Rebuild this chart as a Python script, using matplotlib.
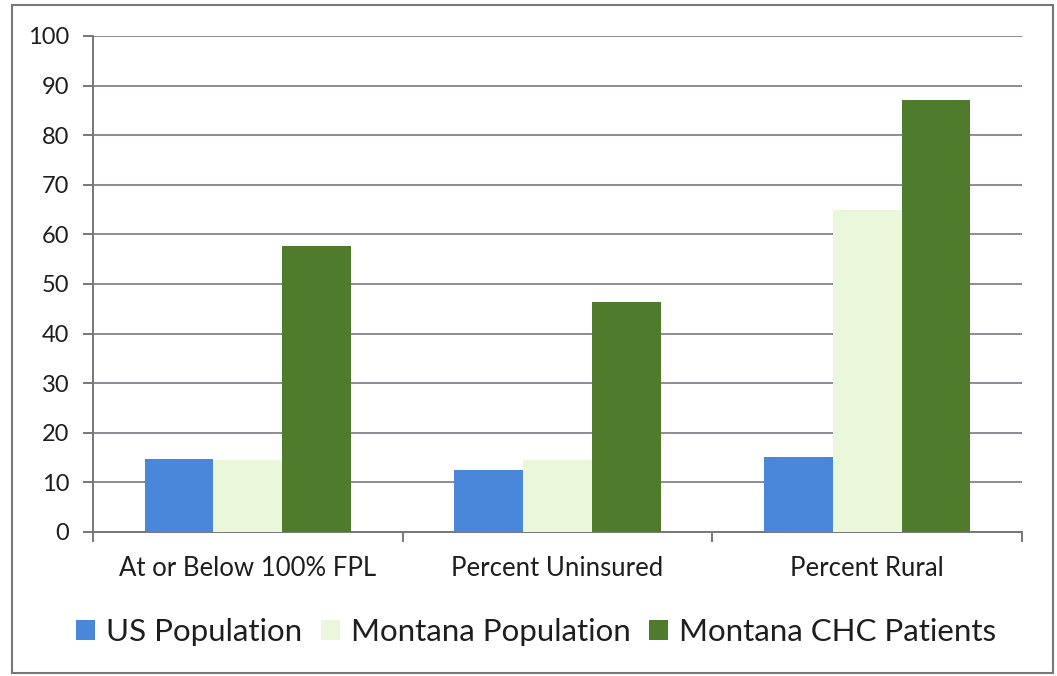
import matplotlib
matplotlib.use("Agg")
import matplotlib.pyplot as plt
import numpy as np
from matplotlib.patches import Rectangle

categories = ["At or Below 100% FPL", "Percent Uninsured", "Percent Rural"]
series_names = ["US Population", "Montana Population", "Montana CHC Patients"]
us_population = [14.8, 12.5, 15.2]
montana_population = [14.5, 14.5, 65.0]
montana_chc = [57.6, 46.3, 87.0]
y_ticks = [0, 10, 20, 30, 40, 50, 60, 70, 80, 90, 100]

colors = ["#4a86d9", "#ebf7da", "#4f7b2c"]
plt.rcParams['font.family'] = ['Lato', 'DejaVu Sans']

W, H = 1057, 676
fig = plt.figure(figsize=(W / 100, H / 100), dpi=100)
fig.patch.set_facecolor("white")
ax = fig.add_axes([93 / W, 1 - 532 / H, (1022 - 93) / W, (532 - 36) / H])

x = np.arange(len(categories))
bw = 1 / 4.5
series = [us_population, montana_population, montana_chc]
for i, (vals, name, c) in enumerate(zip(series, series_names, colors)):
    ax.bar(x + (i - 1) * bw, vals, width=bw, color=c, label=name, zorder=3, linewidth=0)

ax.set_xlim(-0.5, len(categories) - 0.5)
ax.set_ylim(0, 100)
ax.set_yticks(y_ticks)
ax.set_yticklabels([str(t) for t in y_ticks], fontsize=17, color="#1e1e1e")
ax.yaxis.grid(True, color="#8a8c94", linewidth=1.4, zorder=0)
ax.set_axisbelow(True)

ax.set_xticks(np.arange(len(categories) + 1) - 0.5)
ax.set_xticklabels([])
ax.set_xticks(x, minor=True)
ax.set_xticklabels(categories, minor=True, fontsize=18.5, color="#1e1e1e")
ax.tick_params(axis="x", which="minor", length=0, pad=17)
ax.tick_params(axis="x", which="major", length=7, width=1.4, color="#777777", direction="out")
ax.tick_params(axis="y", length=7, width=1.4, color="#777777", pad=10)

for s in ["top", "right"]:
    ax.spines[s].set_visible(False)
for s in ["left", "bottom"]:
    ax.spines[s].set_color("#777777")
    ax.spines[s].set_linewidth(1.4)

leg = fig.legend(loc="center", bbox_to_anchor=(536 / W, 1 - 632 / H), ncol=3, frameon=False,
                 fontsize=22.5, handlelength=0.61, handleheight=0.61, handletextpad=0.35,
                 columnspacing=0.6, labelcolor="#1e1e1e")

fig.patches.append(Rectangle((12 / W, 1 - 673 / H), (1053 - 12) / W, (673 - 5) / H,
                             transform=fig.transFigure, fill=False, edgecolor="#777777",
                             linewidth=1.5))

fig.savefig("out.png", dpi=100)
